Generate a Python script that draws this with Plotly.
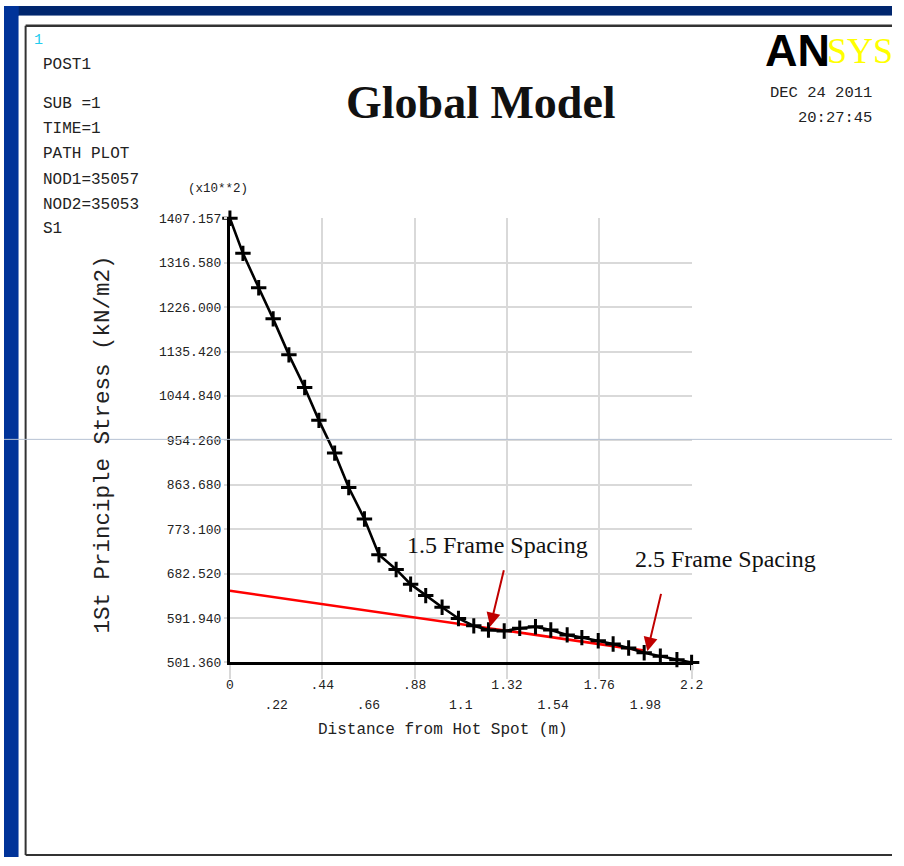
import plotly.graph_objects as go

# ---------------- data ----------------
dist = [0, 0.062, 0.137, 0.206, 0.281, 0.356, 0.424, 0.499, 0.566, 0.641, 0.710,
        0.792, 0.861, 0.933, 1.011, 1.089, 1.162, 1.232, 1.307, 1.381, 1.456,
        1.529, 1.607, 1.677, 1.755, 1.826, 1.900, 1.974, 2.051, 2.130, 2.2]
stress = [1407.157, 1335.6, 1265.5, 1202.0, 1128.6, 1061.9, 995.0, 928.2, 858.0, 794.0, 721.0,
          691.0, 661.0, 637.6, 614.0, 591.0, 576.0, 567.5, 565.5, 571.0, 574.0,
          567.5, 557.5, 552.0, 545.5, 538.8, 530.8, 521.0, 514.0, 507.0, 501.36]

fit_x = [0.0, 1.975]
fit_y = [647.6, 525.4]

x_ticks_even = [0, 0.44, 0.88, 1.32, 1.76, 2.2]
x_labels_even = ["0", ".44", ".88", "1.32", "1.76", "2.2"]
x_ticks_odd = [0.22, 0.66, 1.1, 1.54, 1.98]
x_labels_odd = [".22", ".66", "1.1", "1.54", "1.98"]

y_ticks = [501.360, 591.940, 682.520, 773.100, 863.680, 954.260,
           1044.840, 1135.420, 1226.000, 1316.580, 1407.157]
y_labels = ["501.360", "591.940", "682.520", "773.100", "863.680", "954.260",
            "1044.840", "1135.420", "1226.000", "1316.580", "1407.157"]

arrow_labels = ["1.5 Frame Spacing", "2.5 Frame Spacing"]
arrow_tip_x = [1.240, 1.989]
arrow_tip_y = [574.1, 524.0]
arrow_tail_x = [1.307, 2.056]
arrow_tail_y = [692.3, 644.2]

info_lines = ["POST1", "SUB =1", "TIME=1", "PATH PLOT", "NOD1=35057", "NOD2=35053", "S1"]
info_y = [60, 100, 125, 151, 177, 202, 227]

W, H = 904, 866
def px(x):
    return x / W
def py(y):
    return 1 - y / H

MONO = "Liberation Mono, Courier New, monospace"
SERIF = "Liberation Serif, Times New Roman, serif"

fig = go.Figure()
fig.add_trace(go.Scatter(x=fit_x, y=fit_y, mode="lines",
                         line=dict(color="#ff0000", width=2.6),
                         cliponaxis=False, hoverinfo="skip", showlegend=False))
fig.add_trace(go.Scatter(x=dist, y=stress, mode="lines+markers",
                         line=dict(color="black", width=2.6),
                         marker=dict(symbol="cross-thin", size=11,
                                     line=dict(color="black", width=3)),
                         cliponaxis=False, showlegend=False))
fig.add_trace(go.Scatter(x=[0, 2.2], y=[501.36, 501.36], xaxis="x2", mode="markers",
                         marker=dict(opacity=0), hoverinfo="skip", showlegend=False))

shapes = []
shapes.append(dict(type="rect", xref="paper", yref="paper", x0=0, x1=1, y0=py(10), y1=1,
                   fillcolor="#00266e", line=dict(width=0), layer="below"))
shapes.append(dict(type="rect", xref="paper", yref="paper", x0=0, x1=px(15), y0=0, y1=1,
                   fillcolor="#003399", line=dict(width=0), layer="below"))
shapes.append(dict(type="rect", xref="paper", yref="paper", x0=px(15), x1=1, y0=0, y1=py(10),
                   fillcolor="white", line=dict(width=0), layer="below"))
shapes.append(dict(type="line", xref="paper", yref="paper", x0=px(22), x1=1, y0=py(20), y1=py(20),
                   line=dict(color="#333", width=2.5)))
shapes.append(dict(type="line", xref="paper", yref="paper", x0=px(22), x1=px(22), y0=py(20), y1=py(864),
                   line=dict(color="#333", width=2)))
shapes.append(dict(type="line", xref="paper", yref="paper", x0=px(22), x1=1, y0=py(864), y1=py(864),
                   line=dict(color="#333", width=2)))
shapes.append(dict(type="line", xref="paper", yref="paper", x0=0, x1=1, y0=py(441), y1=py(441),
                   line=dict(color="#b7c2d3", width=1)))

annotations = []
annotations.append(dict(xref="paper", yref="paper", x=px(28), y=py(35), text="1",
                        showarrow=False, xanchor="left", yanchor="middle",
                        font=dict(family=MONO, size=15, color="#22ccee")))
for t, yy in zip(info_lines, info_y):
    annotations.append(dict(xref="paper", yref="paper", x=px(38), y=py(yy), text=t,
                            showarrow=False, xanchor="left", yanchor="middle",
                            font=dict(family=MONO, size=16, color="#222")))
annotations.append(dict(xref="paper", yref="paper", x=px(486), y=py(98), text="<b>Global Model</b>",
                        showarrow=False, xanchor="center", yanchor="middle",
                        font=dict(family=SERIF, size=46, color="#111")))
annotations.append(dict(xref="paper", yref="paper", x=px(773), y=py(45), text="<b>AN</b>",
                        showarrow=False, xanchor="left", yanchor="middle",
                        font=dict(family="Liberation Sans, Arial, sans-serif", size=45, color="black")))
annotations.append(dict(xref="paper", yref="paper", x=px(836), y=py(46), text="SYS",
                        showarrow=False, xanchor="left", yanchor="middle",
                        font=dict(family=SERIF, size=36, color="#ffff00")))
annotations.append(dict(xref="paper", yref="paper", x=px(886), y=py(89), text="DEC 24 2011",
                        showarrow=False, xanchor="right", yanchor="middle",
                        font=dict(family=MONO, size=15.5, color="#222")))
annotations.append(dict(xref="paper", yref="paper", x=px(886), y=py(114), text="20:27:45",
                        showarrow=False, xanchor="right", yanchor="middle",
                        font=dict(family=MONO, size=15.5, color="#222")))
annotations.append(dict(xref="paper", yref="paper", x=px(218), y=py(186), text="(x10**2)",
                        showarrow=False, xanchor="center", yanchor="middle",
                        font=dict(family=MONO, size=12.5, color="#222")))
annotations.append(dict(xref="paper", yref="paper", x=px(101), y=py(446),
                        text="1St Principle Stress (kN/m2)", textangle=-90,
                        showarrow=False, xanchor="center", yanchor="middle",
                        font=dict(family=MONO, size=22.5, color="#222")))
annotations.append(dict(xref="paper", yref="paper", x=px(447), y=py(737),
                        text="Distance from Hot Spot (m)",
                        showarrow=False, xanchor="center", yanchor="middle",
                        font=dict(family=MONO, size=16, color="#222")))
annotations.append(dict(xref="paper", yref="paper", x=px(502), y=py(548), text=arrow_labels[0],
                        showarrow=False, xanchor="center", yanchor="middle",
                        font=dict(family=SERIF, size=24, color="#111")))
annotations.append(dict(xref="paper", yref="paper", x=px(735), y=py(563), text=arrow_labels[1],
                        showarrow=False, xanchor="center", yanchor="middle",
                        font=dict(family=SERIF, size=24, color="#111")))
for tx, ty, ax_, ay_ in zip(arrow_tip_x, arrow_tip_y, arrow_tail_x, arrow_tail_y):
    annotations.append(dict(xref="x", yref="y", x=tx, y=ty, axref="x", ayref="y",
                            ax=ax_, ay=ay_, text="", showarrow=True,
                            arrowhead=2, arrowsize=1.4, arrowwidth=2, arrowcolor="#c00000"))

fig.update_layout(
    autosize=True,
    margin=dict(l=0, r=0, t=0, b=0),
    paper_bgcolor="white", plot_bgcolor="white",
    shapes=shapes, annotations=annotations,
    xaxis=dict(domain=[px(230), px(700)], range=[0, 2.2],
               tickvals=x_ticks_even, ticktext=x_labels_even,
               showgrid=True, gridcolor="#d9d9d9", gridwidth=2,
               ticks="outside", ticklen=14, tickwidth=2, tickcolor="#d9d9d9",
               ticklabelstandoff=-6,
               showline=True, linecolor="black", linewidth=3,
               zeroline=False,
               tickfont=dict(family=MONO, size=13, color="#222")),
    xaxis2=dict(domain=[px(230), px(700)], range=[0, 2.2], overlaying="x",
                anchor="free", position=py(701), side="bottom",
                tickvals=x_ticks_odd, ticktext=x_labels_odd,
                showgrid=False, showline=False, zeroline=False, ticks="",
                tickfont=dict(family=MONO, size=13, color="#222")),
    yaxis=dict(domain=[py(668), py(216)], range=[501.36, 1407.157],
               tickvals=y_ticks, ticktext=y_labels,
               showgrid=True, gridcolor="#d9d9d9", gridwidth=2,
               ticks="outside", ticklen=3, tickwidth=2, tickcolor="#d9d9d9",
               showline=True, linecolor="black", linewidth=3,
               zeroline=False,
               tickfont=dict(family=MONO, size=13, color="#222")),
)

post = ("document.documentElement.style.margin='0';"
        "document.documentElement.style.overflow='hidden';"
        "document.body.style.margin='0';"
        "document.body.style.padding='0';"
        "document.body.style.overflow='hidden';"
        "var gd=document.getElementById('{plot_id}');"
        "gd.style.width='100vw';gd.style.height='100vh';"
        "Plotly.Plots.resize(gd);")

fig.write_html("out.html", config={"displayModeBar": False, "responsive": True},
               default_width="100vw", default_height="100vh", post_script=post)
